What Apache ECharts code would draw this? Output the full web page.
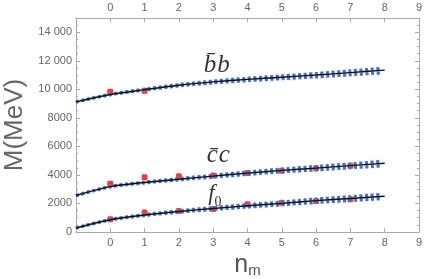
<!DOCTYPE html>
<html>
<head>
<meta charset="utf-8">
<style>html,body{margin:0;padding:0;background:#fff}#c{width:425px;height:279px}</style>
<script src="https://cdn.jsdelivr.net/npm/echarts@6/dist/echarts.min.js"></script>
</head>
<body>
<div id="c"></div>
<script>
// x positions
const nLine = [-1, 0, 1, 2, 3, 4, 5, 6, 7, 8];
const nBand = [-1, 0, 1, 2, 3, 4, 5, 6, 7, 7.9];
// fitted curves (black)
const bbLine = [9120, 9640, 9980, 10290, 10520, 10700, 10850, 11000, 11170, 11350];
const ccLine = [2560, 3180, 3470, 3700, 3920, 4130, 4320, 4480, 4650, 4820];
const f0Line = [280, 860, 1190, 1440, 1650, 1840, 2010, 2200, 2350, 2510];
// band edges (blue dotted)
const bbUpper = [9120, 9655, 10010, 10335, 10580, 10775, 10940, 11110, 11295, 11470];
const bbLower = [9120, 9625, 9950, 10240, 10450, 10610, 10745, 10870, 11025, 11150];
const ccUpper = [2560, 3195, 3500, 3745, 3980, 4205, 4410, 4590, 4775, 4945];
const ccLower = [2560, 3165, 3440, 3650, 3850, 4040, 4215, 4350, 4505, 4625];
const f0Upper = [280, 875, 1220, 1485, 1710, 1915, 2100, 2310, 2475, 2640];
const f0Lower = [280, 845, 1160, 1390, 1580, 1750, 1905, 2070, 2205, 2330];
// experimental points (red)
const bbN = [0, 1];
const bbM = [9830, 9900];
const ccN = [0, 1, 2, 3, 4, 5, 6, 7];
const ccM = [3380, 3830, 3900, 3960, 4140, 4300, 4470, 4650];
const f0N = [0, 1, 2, 3, 4, 5, 6, 7];
const f0M = [900, 1360, 1480, 1620, 1940, 2050, 2170, 2290];
// curve labels
const labelText = ['b', 'c', 'f'];
const labelN = [3.1, 3.15, 3.05];
const labelM = [11650, 5380, 2700];

const zip = (xs, ys) => xs.map((x, i) => [x, ys[i]]);

const axisCol = '#aaaaaa';
const txtCol = '#666666';
const font = 'Liberation Sans';

function xAx(pos) {
  return {
    type: 'value', position: pos, min: -1, max: 9, interval: 1,
    axisLine: { show: true, onZero: false, lineStyle: { color: axisCol, width: 1 } },
    axisTick: { show: true, inside: true, length: 4, lineStyle: { color: axisCol } },
    axisLabel: { color: txtCol, fontSize: 11, fontFamily: font, margin: 5,
      formatter: v => (v === -1 ? '' : String(v)) },
    splitLine: { show: false }
  };
}
function yAx(pos, labels) {
  return {
    type: 'value', position: pos, min: 0, max: 15000, interval: 2000,
    axisLine: { show: true, onZero: false, lineStyle: { color: axisCol, width: 1 } },
    axisTick: { show: true, inside: true, length: 4, lineStyle: { color: axisCol } },
    minorTick: { show: true, splitNumber: 4, length: 2, lineStyle: { color: axisCol } },
    axisLabel: { show: labels, color: txtCol, fontSize: 11, fontFamily: font, margin: 4,
      formatter: v => (v > 14000 ? '' : (v >= 10000 ? String(v).replace(/(\d{3})$/, ' $1') : String(v))) },
    splitLine: { show: false }
  };
}

const bandStyle = {
  color: '#4a72b8', width: 3, type: [3, 2.6],
  shadowColor: 'rgba(140,170,225,0.6)', shadowBlur: 1.5
};
function band(ys) {
  return { type: 'line', data: zip(nBand, ys), smooth: 0.3, showSymbol: false, symbol: 'none',
    lineStyle: bandStyle, z: 3, silent: true };
}
function black(ys) {
  return { type: 'line', data: zip(nLine, ys), smooth: 0.3, showSymbol: false, symbol: 'none',
    lineStyle: { color: '#111', width: 1.4 }, z: 4, silent: true };
}
function red(xs, ys) {
  return { type: 'scatter', data: zip(xs, ys), symbol: 'roundRect', symbolSize: 6,
    itemStyle: { color: '#f00a0a' }, z: 2, silent: true };
}

const serif = 'Liberation Serif';
const chart = echarts.init(document.getElementById('c'), null, { renderer: 'canvas' });
chart.setOption({
  animation: false,
  backgroundColor: '#fff',
  grid: { left: 76, right: 6, top: 18, bottom: 47, containLabel: false, outerBoundsMode: 'none' },
  xAxis: [
    Object.assign(xAx('bottom'), {
      name: '{n|n}{m|m}', nameLocation: 'middle', nameGap: 16,
      nameTextStyle: { rich: {
        n: { fontSize: 25, color: '#555', fontFamily: font },
        m: { fontSize: 15, color: '#555', fontFamily: font, verticalAlign: 'bottom' }
      } }
    }),
    xAx('top')
  ],
  yAxis: [
    Object.assign(yAx('left', true), {
      name: 'M(MeV)', nameLocation: 'middle', nameGap: 48,
      nameTextStyle: { fontSize: 26, color: '#666', fontFamily: font }
    }),
    yAx('right', false)
  ],
  series: [
    red(bbN, bbM), red(ccN, ccM), red(f0N, f0M),
    band(bbUpper), band(bbLower), band(ccUpper), band(ccLower), band(f0Upper), band(f0Lower),
    black(bbLine), black(ccLine), black(f0Line),
    {
      type: 'scatter', symbolSize: 0, silent: true, z: 6,
      data: labelN.map((x, i) => [x, labelM[i], labelText[i]]),
      label: { show: true, position: 'inside',
        formatter: p => (p.data[2] === 'f' ? '{f|f}{s|0}' : '{t|' + p.data[2] + '\u0304}{u|' + p.data[2] + '}'),
        rich: {
          t: { fontSize: 25, fontStyle: 'italic', fontFamily: serif, color: '#000' },
          u: { fontSize: 25, fontStyle: 'italic', fontFamily: serif, color: '#000', padding: [0, 0, 0, 1] },
          f: { fontSize: 23, fontStyle: 'italic', fontFamily: serif, color: '#000' },
          s: { fontSize: 14, fontFamily: serif, color: '#000', verticalAlign: 'bottom', padding: [0, 0, -4, 0] }
        } }
    }
  ]
});
</script>
</body>
</html>
